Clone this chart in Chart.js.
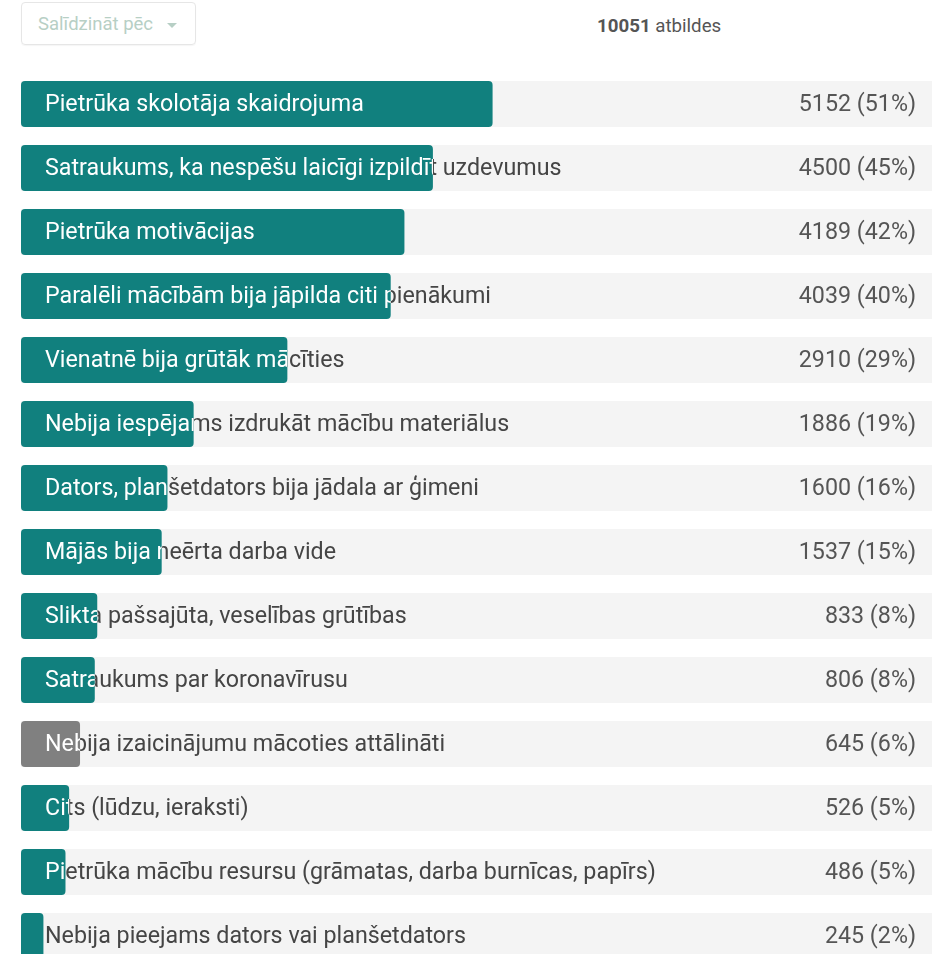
<!DOCTYPE html>
<html>
<head>
<meta charset="utf-8">
<script src="https://cdn.jsdelivr.net/npm/chart.js@4"></script>
<style>
  html,body{margin:0;padding:0;background:#fff;overflow:hidden;width:932px;height:954px;font-family:Roboto,sans-serif}
  .sel{position:absolute;left:21px;top:2px;width:175px;height:43px;border:1px solid #e6e6e6;border-radius:4px;box-sizing:border-box;box-shadow:0 1px 1px rgba(0,0,0,0.04)}
  .sel span{position:absolute;left:16px;top:10px;font-size:18.5px;color:#b7cfc5;line-height:22px}
  .sel i{position:absolute;left:145px;top:20px;width:0;height:0;border-left:5px solid transparent;border-right:5px solid transparent;border-top:5px solid #b7cfc5}
  .cnt{position:absolute;left:597px;top:15px;font-size:18.7px;color:#555;line-height:22px}
  .cnt b{font-weight:700}
  .wrap{position:absolute;left:0;top:72px;width:941px;height:896px}
</style>
</head>
<body>
<div class="sel"><span>Salīdzināt pēc</span><i></i></div>
<div class="cnt"><b>10051</b> atbildes</div>
<div class="wrap"><canvas id="c"></canvas></div>
<script>
(function(){
  const total=10051;
  const labels=['Pietrūka skolotāja skaidrojuma','Satraukums, ka nespēšu laicīgi izpildīt uzdevumus','Pietrūka motivācijas','Paralēli mācībām bija jāpilda citi pienākumi','Vienatnē bija grūtāk mācīties','Nebija iespējams izdrukāt mācību materiālus','Dators, planšetdators bija jādala ar ģimeni','Mājās bija neērta darba vide','Slikta pašsajūta, veselības grūtības','Satraukums par koronavīrusu','Nebija izaicinājumu mācoties attālināti','Cits (lūdzu, ieraksti)','Pietrūka mācību resursu (grāmatas, darba burnīcas, papīrs)','Nebija pieejams dators vai planšetdators'];
  const counts=[5152,4500,4189,4039,2910,1886,1600,1537,833,806,645,526,486,245];
  const pcts=[51,45,42,40,29,19,16,15,8,8,6,5,5,2];
  const teal='#11807e',grey='#808080';
  const colors=labels.map(function(l,i){return i===10?grey:teal;});

  const labelPlugin={id:'rowText',afterDatasetsDraw:function(chart){
    const ctx=chart.ctx;const meta=chart.getDatasetMeta(0);const area=chart.chartArea;
    ctx.save();ctx.font='23.25px Roboto';ctx.textBaseline='middle';
    meta.data.forEach(function(bar,i){
      const y=bar.y+1,x0=area.left+24,xe=bar.x;
      // dark text outside the bar
      ctx.save();ctx.beginPath();ctx.rect(xe,bar.y-30,area.right-xe,60);ctx.clip();
      ctx.fillStyle='#454545';ctx.textAlign='left';ctx.fillText(labels[i],x0,y);ctx.restore();
      // white text on the bar
      ctx.save();ctx.beginPath();ctx.rect(area.left,bar.y-30,xe-area.left,60);ctx.clip();
      ctx.fillStyle='#ffffff';ctx.textAlign='left';ctx.fillText(labels[i],x0,y);ctx.restore();
      ctx.fillStyle='#555555';ctx.textAlign='right';ctx.fillText(counts[i]+' ('+pcts[i]+'%)',916,y);
    });
    ctx.restore();
  }};

  new Chart(document.getElementById('c'),{
    type:'bar',
    data:{labels:labels,datasets:[
      {data:counts,backgroundColor:colors,borderRadius:4,borderSkipped:false,grouped:false,order:0,categoryPercentage:1,barPercentage:46/64},
      {data:labels.map(function(){return total;}),backgroundColor:'#f4f4f4',grouped:false,order:1,categoryPercentage:1,barPercentage:46/64}
    ]},
    options:{indexAxis:'y',responsive:true,maintainAspectRatio:false,animation:false,
      layout:{padding:{left:21,right:0,top:0,bottom:0}},
      scales:{x:{display:false,min:0,max:total},y:{display:false}},
      plugins:{legend:{display:false},tooltip:{enabled:false}}},
    plugins:[labelPlugin]
  });
})();
</script>
</body>
</html>
